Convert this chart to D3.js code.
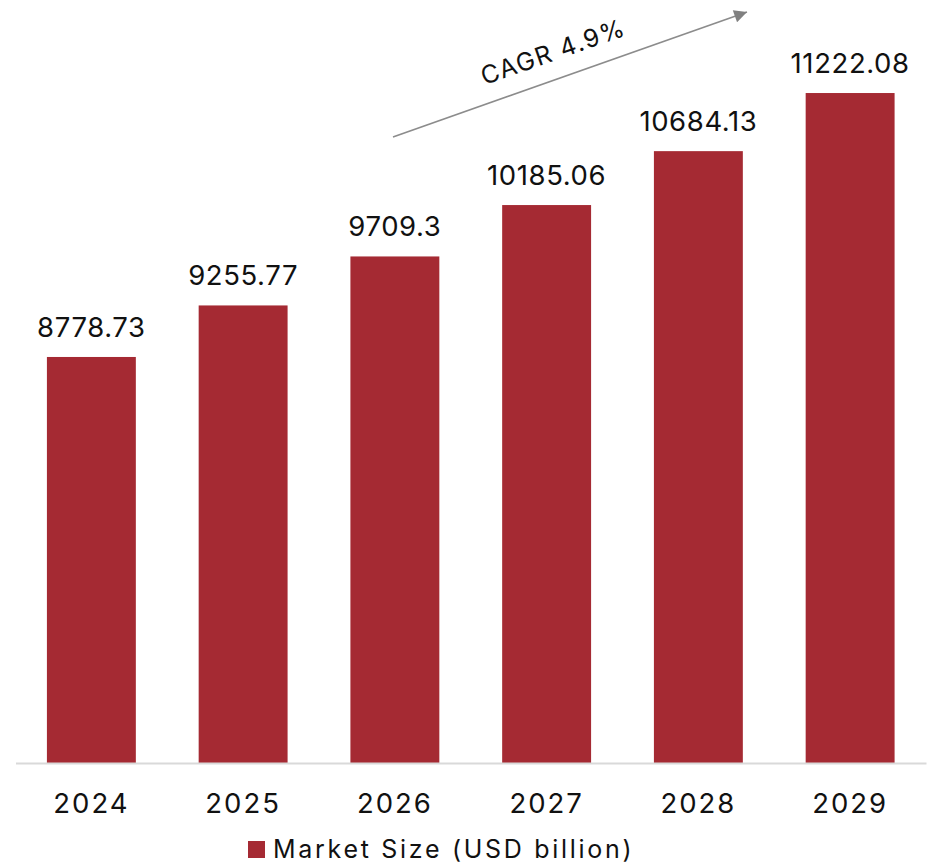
<!DOCTYPE html>
<html>
<head>
<meta charset="utf-8">
<script src="https://cdn.jsdelivr.net/npm/d3@7"></script>
<style>
  body { margin: 0; background: #fff; }
  svg text { font-family: Inter, "Noto Sans", sans-serif; fill: #111; }
</style>
</head>
<body>
<svg id="chart" width="940" height="863"></svg>
<script>
var years = ["2024", "2025", "2026", "2027", "2028", "2029"];
var marketSize = [8778.73, 9255.77, 9709.3, 10185.06, 10684.13, 11222.08];
var seriesName = "Market Size (USD billion)";
var cagrText = "CAGR 4.9%";

var barColor = "#a52a33";
var svg = d3.select("#chart");

var baseline = 763;

var x = d3.scaleBand()
    .domain(years)
    .range([15.5, 926])
    .paddingInner(0.414)
    .paddingOuter(0.207);

// value axis does not start at zero in the original
var y = d3.scaleLinear()
    .domain([5020, 12000])
    .range([baseline, 9]);

var data = years.map(function(yr, i) { return {year: yr, value: marketSize[i]}; });

// bars
svg.append("g").selectAll("rect")
    .data(data)
    .enter().append("rect")
    .attr("x", function(d) { return x(d.year); })
    .attr("y", function(d) { return y(d.value); })
    .attr("width", x.bandwidth())
    .attr("height", function(d) { return baseline - y(d.value); })
    .style("fill", barColor);

// value labels
svg.append("g").selectAll("text")
    .data(data)
    .enter().append("text")
    .attr("x", function(d) { return x(d.year) + x.bandwidth() / 2; })
    .attr("y", function(d) { return y(d.value) - 20; })
    .attr("text-anchor", "middle")
    .style("font-size", "27.5px")
    .style("letter-spacing", "0.6px")
    .text(function(d) { return String(d.value); });

// x axis
var xAxis = svg.append("g")
    .attr("transform", "translate(0," + baseline + ")")
    .call(d3.axisBottom(x).tickSize(0).tickPadding(30));
xAxis.select(".domain").attr("stroke", "#d9d9d9").attr("stroke-width", 2);
xAxis.selectAll("text")
    .style("font-size", "27.5px")
    .style("letter-spacing", "2px")
    .style("font-family", "Inter, 'Noto Sans', sans-serif")
    .attr("fill", "#111");

// CAGR arrow
var defs = svg.append("defs");
defs.append("marker")
    .attr("id", "arrow")
    .attr("viewBox", "0 0 10 10")
    .attr("refX", 10).attr("refY", 5)
    .attr("markerWidth", 9).attr("markerHeight", 8)
    .attr("markerUnits", "strokeWidth")
    .attr("orient", "auto")
    .append("path")
    .attr("d", "M0,0 L10,5 L0,10 z")
    .style("fill", "#808080");

var a0 = [393, 137], a1 = [747, 12];
svg.append("line")
    .attr("x1", a0[0]).attr("y1", a0[1])
    .attr("x2", a1[0]).attr("y2", a1[1])
    .attr("stroke", "#8c8c8c")
    .attr("stroke-width", 1.6)
    .attr("marker-end", "url(#arrow)");

var angle = Math.atan2(a1[1] - a0[1], a1[0] - a0[0]) * 180 / Math.PI;
svg.append("text")
    .attr("transform", "translate(556,60) rotate(" + angle + ")")
    .attr("text-anchor", "middle")
    .style("font-size", "25px")
    .style("letter-spacing", "1.5px")
    .text(cagrText);

// legend
var legend = svg.append("g").attr("transform", "translate(248,841)");
legend.append("rect")
    .attr("width", 17).attr("height", 17)
    .style("fill", barColor);
legend.append("text")
    .attr("x", 25).attr("y", 17)
    .style("font-size", "25px")
    .style("letter-spacing", "2.7px")
    .text(seriesName);
</script>
</body>
</html>
